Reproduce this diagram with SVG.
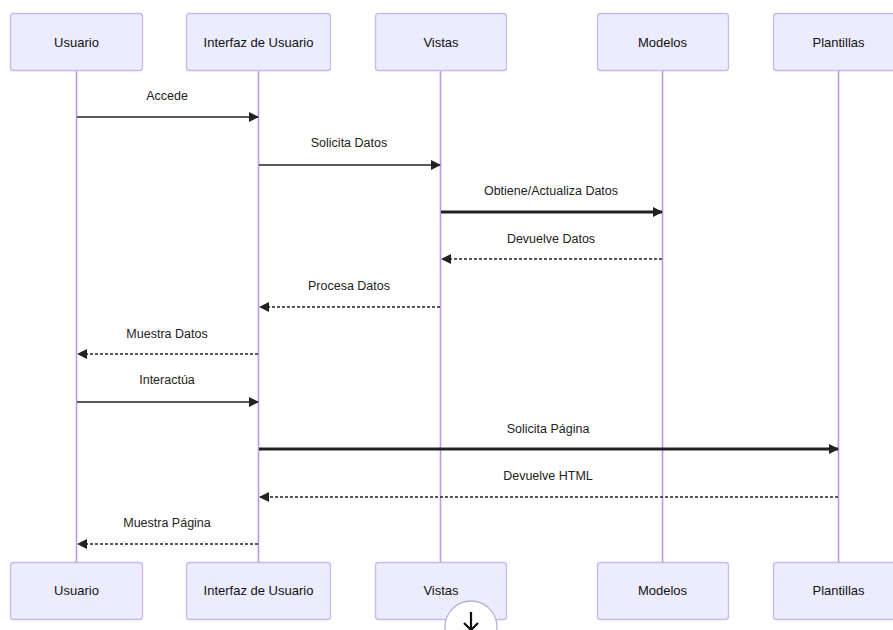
<svg xmlns="http://www.w3.org/2000/svg" width="893" height="630" viewBox="0 0 893 630">
  <style>
    .actor rect { fill: #ECECFF; stroke: #C9B8EE; stroke-width: 1.3; }
    .actor text { font-family: "Liberation Sans", Arial, sans-serif; font-size: 13px; fill: #111; text-anchor: middle; dominant-baseline: central; }
    .life { stroke: #B79CEB; stroke-width: 1.6; fill: none; }
    .msg { stroke: #222; stroke-width: 1.6; fill: none; }
    .thick { stroke-width: 2.8; }
    .dash { stroke-dasharray: 3 2; stroke-width: 1.6; }
    .label { font-family: "Liberation Sans", Arial, sans-serif; font-size: 12.5px; fill: #222; text-anchor: middle; dominant-baseline: central; }
  </style>
  <defs>
    <marker id="head" markerWidth="10" markerHeight="10" refX="9" refY="5" orient="auto" markerUnits="userSpaceOnUse">
      <path d="M0,0 L10,5 L0,10 z" fill="#222"/>
    </marker>
  </defs>

  <rect width="893" height="630" fill="#fff"/>

  <!-- lifelines -->
  <g id="lifelines">
    <line class="life" x1="76.5" y1="70" x2="76.5" y2="562"/>
    <line class="life" x1="258.5" y1="70" x2="258.5" y2="562"/>
    <line class="life" x1="440.5" y1="70" x2="440.5" y2="562"/>
    <line class="life" x1="662.5" y1="70" x2="662.5" y2="562"/>
    <line class="life" x1="838.5" y1="70" x2="838.5" y2="562"/>
  </g>

  <!-- participants, top -->
  <g id="usuario-top" class="actor"><rect x="10.5" y="13.5" width="132" height="57" rx="3"/><text x="76.5" y="42">Usuario</text></g>
  <g id="interfaz-top" class="actor"><rect x="186.5" y="13.5" width="144" height="57" rx="3"/><text x="258.5" y="42">Interfaz de Usuario</text></g>
  <g id="vistas-top" class="actor"><rect x="375.5" y="13.5" width="131" height="57" rx="3"/><text x="441" y="42">Vistas</text></g>
  <g id="modelos-top" class="actor"><rect x="597.5" y="13.5" width="131" height="57" rx="3"/><text x="662.5" y="42">Modelos</text></g>
  <g id="plantillas-top" class="actor"><rect x="773.5" y="13.5" width="131" height="57" rx="3"/><text x="838.5" y="42">Plantillas</text></g>

  <!-- participants, bottom -->
  <g id="usuario-bottom" class="actor"><rect x="10.5" y="562.5" width="132" height="57" rx="3"/><text x="76.5" y="590">Usuario</text></g>
  <g id="interfaz-bottom" class="actor"><rect x="186.5" y="562.5" width="144" height="57" rx="3"/><text x="258.5" y="590">Interfaz de Usuario</text></g>
  <g id="vistas-bottom" class="actor"><rect x="375.5" y="562.5" width="131" height="57" rx="3"/><text x="441" y="590">Vistas</text></g>
  <g id="modelos-bottom" class="actor"><rect x="597.5" y="562.5" width="131" height="57" rx="3"/><text x="662.5" y="590">Modelos</text></g>
  <g id="plantillas-bottom" class="actor"><rect x="773.5" y="562.5" width="131" height="57" rx="3"/><text x="838.5" y="590">Plantillas</text></g>

  <!-- messages -->
  <g id="connectors">
    <line class="msg" x1="77" y1="117" x2="258" y2="117" marker-end="url(#head)"/>
    <line class="msg" x1="259" y1="165" x2="440" y2="165" marker-end="url(#head)"/>
    <line class="msg thick" x1="441" y1="212" x2="662" y2="212" marker-end="url(#head)"/>
    <line class="msg dash" x1="662" y1="259" x2="442" y2="259" marker-end="url(#head)"/>
    <line class="msg dash" x1="440" y1="307" x2="260" y2="307" marker-end="url(#head)"/>
    <line class="msg dash" x1="258" y1="354" x2="78" y2="354" marker-end="url(#head)"/>
    <line class="msg" x1="77" y1="402" x2="258" y2="402" marker-end="url(#head)"/>
    <line class="msg thick" x1="259" y1="449" x2="838" y2="449" marker-end="url(#head)"/>
    <line class="msg dash" x1="838" y1="497" x2="260" y2="497" marker-end="url(#head)"/>
    <line class="msg dash" x1="258" y1="544" x2="78" y2="544" marker-end="url(#head)"/>
  </g>

  <g id="message-labels">
    <text class="label" x="167" y="96">Accede</text>
    <text class="label" x="349" y="143">Solicita Datos</text>
    <text class="label" x="551" y="191">Obtiene/Actualiza Datos</text>
    <text class="label" x="551" y="239">Devuelve Datos</text>
    <text class="label" x="349" y="286">Procesa Datos</text>
    <text class="label" x="167" y="334">Muestra Datos</text>
    <text class="label" x="167" y="380">Interactúa</text>
    <text class="label" x="548" y="429">Solicita Página</text>
    <text class="label" x="548" y="476">Devuelve HTML</text>
    <text class="label" x="167" y="523">Muestra Página</text>
  </g>

  <!-- round download button at the lower edge -->
  <g id="download-button">
    <circle cx="471" cy="627" r="26" fill="#fff" stroke="#B8B0D8" stroke-width="1.3"/>
    <path d="M471,612 V630 M464,623 L471,630 L478,623" fill="none" stroke="#111" stroke-width="2.2"/>
  </g>
</svg>
